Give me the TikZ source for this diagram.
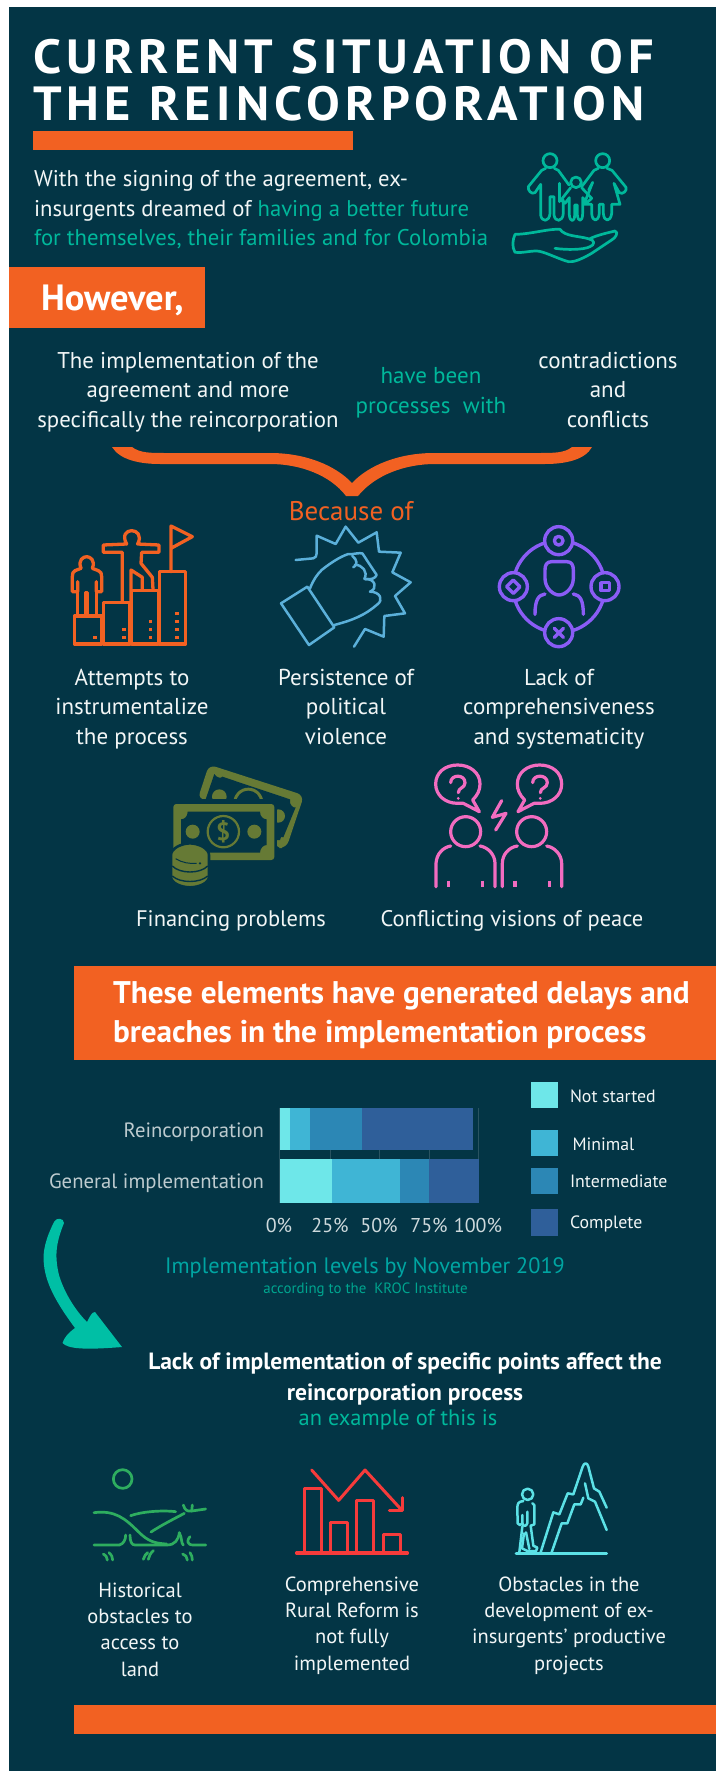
\documentclass[tikz,border=0pt]{standalone}
\usepackage{fontspec}
\setmainfont{PT Sans}
\newfontfamily\titlefont[LetterSpace=11,FakeStretch=1.05]{PT Sans}
\definecolor{bgc}{HTML}{033545}
\definecolor{orangec}{HTML}{F26122}
\definecolor{tealc}{HTML}{00B89B}
\definecolor{capc}{HTML}{00A5A2}
\definecolor{subc}{HTML}{00A58F}
\definecolor{arrowc}{HTML}{00BFA5}
\definecolor{softw}{HTML}{F2F6F6}
\definecolor{chA}{HTML}{6EE7E9}
\definecolor{chB}{HTML}{3FB5D5}
\definecolor{chC}{HTML}{2C87B5}
\definecolor{chD}{HTML}{2F5F9A}
\definecolor{olive}{HTML}{667A35}
\definecolor{pinkc}{HTML}{F26CC0}
\definecolor{purplec}{HTML}{8A5CF6}
\definecolor{bluec}{HTML}{5BB0DA}
\definecolor{greenc}{HTML}{2EAD5F}
\definecolor{redc}{HTML}{F63B3B}
\definecolor{cyanc}{HTML}{5CE1E6}
\tikzset{
  txt/.style={inner sep=0pt,outer sep=0pt,anchor=base,align=center,text=softw,font=\fontsize{#1}{#1}\selectfont},
  txt/.default=22.5,
  lines/.style 2 args={inner sep=0pt,outer sep=0pt,anchor=base,align=center,text=softw,font=\fontsize{#1}{#2}\selectfont},
  icon/.style={line width=#1,line cap=round,line join=round},
  icon/.default=2.7pt,
  px/.style={x=0.33333pt,y=-0.33333pt}
}
\begin{document}
\begin{tikzpicture}[x=1pt,y=-1pt]
\useasboundingbox (0,0) rectangle (716,1771);
\fill[white] (0,0) rectangle (716,1771);
\fill[bgc] (9,7) rectangle (716,1771);

% ---------- title
\node[txt,anchor=base west,text=white,font=\titlefont\bfseries\fontsize{48}{48}\selectfont] (t1) at (33,74) {CURRENT SITUATION OF};
\node[txt,anchor=base west,text=white,font=\titlefont\bfseries\fontsize{48}{48}\selectfont] (t2) at (33,121) {THE REINCORPORATION};
\fill[orangec] (33,131) rectangle (353,150);

\node[lines={22.7}{29.5},align=left,anchor=base west] (intro) at (34,246) {With the signing of the agreement, ex-\\insurgents dreamed of \textcolor{tealc}{having a better future}\\\textcolor{tealc}{for themselves, their families and for Colombia}};

% family icon
\begin{scope}[shift={(500,145)},px,tealc,icon]
\draw (150,47) circle [radius=21];
\draw (308,47) circle [radius=21];
\draw (228,112) circle [radius=16];
\draw (137,70) -- (125,76) -- (85,125) .. controls (82,135) and (95,150) .. (105,143) -- (122,118) -- (122,210) .. controls (125,232) and (148,232) .. (150,205) -- (150,155) -- (162,155) -- (162,210) .. controls (165,232) and (188,232) .. (190,205) -- (190,165);
\draw (163,70) -- (175,76) -- (207,120);
\draw (178,115) -- (178,170);
\draw (212,128) -- (183,165) -- (195,175) -- (208,158) -- (208,210) .. controls (210,232) and (224,232) .. (224,210) -- (224,180) -- (232,180) -- (232,210) .. controls (234,232) and (248,232) .. (248,205) -- (248,158) -- (262,172) -- (275,160) -- (245,128);
\draw (295,70) -- (282,76) -- (245,125);
\draw (321,70) -- (336,76) -- (378,127) .. controls (382,137) and (368,150) .. (358,143) -- (342,115) -- (360,178) -- (335,178) -- (335,205) .. controls (332,232) and (312,232) .. (310,205) -- (310,178) -- (298,178) -- (298,205) .. controls (295,232) and (277,232) .. (275,205) -- (275,178) -- (252,178) -- (278,112) -- (266,135);
\draw (45,268) .. controls (90,268) and (150,250) .. (180,253) .. controls (195,275) and (235,272) .. (268,282) .. controls (290,270) and (330,262) .. (345,258) .. controls (358,262) and (345,280) .. (335,285) -- (275,325) .. controls (240,345) and (220,352) .. (205,350) .. controls (170,340) and (130,318) .. (110,318) .. controls (85,318) and (65,325) .. (45,322) .. controls (35,305) and (38,285) .. (45,268);
\draw (165,310) .. controls (200,315) and (250,315) .. (270,305) .. controls (285,300) and (285,285) .. (268,282);
\end{scope}

% ---------- However
\fill[orangec] (9,267) rectangle (205,328);
\node[txt,anchor=base west,text=white,font=\bfseries\fontsize{36.5}{36.5}\selectfont] (howev) at (41,310) {However,};

\node[lines={22.8}{29.5}] (impl) at (188,427) {The implementation of the\\agreement and more\\specifically the reincorporation};
\node[lines={23}{30},text=tealc] (pro) at (431,413) {have been\\processes\ \ with};
\node[lines={23}{29.5}] (con) at (608,427) {contradictions\\and\\conflicts};

% brace
\fill[orangec] (112,447) -- (132,447) .. controls (140,453) and (150,453) .. (165,453) -- (270,453) .. controls (305,453) and (335,465) .. (352,483) .. controls (369,465) and (399,453) .. (434,453) -- (540,453) .. controls (553,453) and (565,453) .. (572,447) -- (592,447) .. controls (585,460) and (565,464) .. (545,464) -- (435,464) .. controls (405,464) and (375,475) .. (358,496) -- (346,496) .. controls (330,475) and (300,464) .. (270,464) -- (160,464) .. controls (140,464) and (120,460) .. (112,447) -- cycle;

\node[txt=27,text=orangec] (bec) at (351,520) {Because of};

% icon orange
\begin{scope}[shift={(65,520)},px,orangec,icon=3.3pt]
\draw (28,288) rectangle (110,372);
\draw (115,248) rectangle (195,372);
\draw (200,212) rectangle (280,372);
\draw (283,155) rectangle (362,372);
\draw (318,155) -- (318,18) -- (382,50) -- (318,85);
\foreach \p in {(90,352),(177,328),(177,352),(256,304),(256,328),(256,352),(336,280),(336,304),(336,328),(336,352)}
  \fill[shift={\p}] (-5,-5) rectangle (5,5);
\draw (48,145) .. controls (38,120) and (55,110) .. (65,110) .. controls (75,110) and (92,120) .. (82,145) -- (100,152) .. controls (108,155) and (110,160) .. (110,170) -- (110,215) -- (94,215) -- (94,185);
\draw (94,215) -- (94,285);
\draw (48,145) -- (30,152) .. controls (24,155) and (22,160) .. (22,170) -- (22,215) -- (38,215) -- (38,185);
\draw (38,215) -- (38,285);
\draw (62,285) -- (62,218) -- (68,218) -- (68,285);
\draw (185,72) .. controls (170,45) and (185,32) .. (200,32) .. controls (215,32) and (232,45) .. (218,72) -- (282,75) -- (282,97) -- (230,97) -- (228,130) -- (262,172) -- (264,208);
\draw (185,72) -- (115,75) -- (115,97) -- (172,97) -- (172,245);
\draw (198,245) -- (198,150) -- (232,172) -- (232,208);
\end{scope}

% icon blue
\begin{scope}[shift={(275,520)},px,bluec,icon=2.5pt]
\draw (18,250) -- (97,200) -- (178,322) -- (102,375) -- cycle;
\draw (105,205) .. controls (115,180) and (125,165) .. (140,150) .. controls (165,130) and (195,110) .. (220,102) .. controls (232,105) and (240,98) .. (262,100) -- (305,165) .. controls (300,175) and (290,180) .. (270,177);
\draw (232,108) .. controls (248,120) and (248,135) .. (235,142);
\draw (240,134) .. controls (262,135) and (280,155) .. (268,177);
\draw (270,177) .. controls (300,175) and (310,205) .. (285,215);
\draw (285,215) .. controls (315,215) and (328,240) .. (305,255) .. controls (270,285) and (235,300) .. (178,315);
\draw (62,120) -- (115,115) .. controls (122,113) and (125,108) .. (125,100) -- (125,47) -- (182,72) -- (212,20) -- (250,68) -- (305,37) -- (312,95) -- (377,98) -- (352,157) -- (407,187) -- (360,228) -- (390,280) -- (328,288) -- (326,350) -- (270,327) -- (237,380);
\end{scope}

% icon purple
\begin{scope}[shift={(490,520)},px,purplec,icon=3.4pt]
\draw (207,200) circle [radius=138];
\foreach \cx/\cy in {206/62,70/200,345/200,206/338}
  \draw[fill=bgc] (\cx,\cy) circle [radius=42];
\draw (206,62) circle [radius=13];
\draw (70,180) -- (90,200) -- (70,220) -- (50,200) -- cycle;
\draw (333,188) rectangle (358,212);
\draw (193,325) -- (220,352) (220,325) -- (193,352);
\draw (185,125) -- (230,125) .. controls (245,125) and (250,135) .. (250,150) -- (250,175) .. controls (250,205) and (225,225) .. (207,225) .. controls (190,225) and (165,205) .. (165,175) -- (165,150) .. controls (165,135) and (170,125) .. (185,125) -- cycle;
\draw (165,222) .. controls (145,225) and (135,240) .. (135,283);
\draw (250,222) .. controls (270,225) and (280,240) .. (280,283);
\end{scope}

\node[lines={23}{29.5}] (l1) at (132,744) {Attempts to\\instrumentalize\\the process};
\node[lines={23}{29.5}] (l2) at (346,744) {Persistence of\\political\\violence};
\node[lines={23}{29.5}] (l3) at (559,744) {Lack of\\comprehensiveness\\and systematicity};

% money icon
\begin{scope}[shift={(165,760)},px]
\fill[olive,rounded corners=7pt] (132,14) -- (417,106) -- (364,264) -- (330,264) -- (330,118) -- (98,118) -- cycle;
\fill[bgc] (148,42) .. controls (155,55) and (170,55) .. (172,50) -- (375,118) .. controls (372,135) and (385,145) .. (392,142) -- (355,232) .. controls (350,226) and (345,232) .. (345,240) -- (336,240) -- (336,118) -- (122,118) -- cycle;
\fill[olive] (163,110) circle [radius=22];
\fill[olive] (250,128) circle [radius=45];
\fill[bgc] (250,128) circle [radius=36];
\fill[olive] (250,118) -- (240,125) -- (265,125) -- cycle;
\fill[olive] (340,168) circle [radius=20];
\fill[bgc] (10,118) rectangle (336,310);
\fill[olive,rounded corners=3pt] (25,132) rectangle (328,300);
\fill[bgc] (68,155) -- (285,155) .. controls (285,170) and (295,178) .. (305,178) -- (305,255) .. controls (295,255) and (285,265) .. (285,278) -- (68,278) .. controls (68,265) and (58,255) .. (48,255) -- (48,178) .. controls (58,178) and (68,170) .. (68,155) -- cycle;
\fill[olive] (83,215) circle [radius=21];
\fill[olive] (268,215) circle [radius=21];
\draw[olive,line width=2.2pt] (175,215) circle [radius=47];
\node[inner sep=0pt,text=olive,font=\bfseries\fontsize{25}{25}\selectfont] (dollar) at (175,215) {\$};
\draw[bgc,line width=2.6pt,fill=olive] (18,285) .. controls (18,265) and (50,250) .. (75,250) .. controls (100,250) and (132,265) .. (132,285) -- (132,350) .. controls (132,370) and (100,382) .. (75,382) .. controls (50,382) and (18,370) .. (18,350) -- cycle;
\draw[bgc,line width=1.4pt] (22,318) .. controls (45,342) and (105,342) .. (128,318);
\draw[bgc,line width=1.4pt] (22,348) .. controls (45,370) and (105,370) .. (128,348);
\draw[bgc,line width=1pt] (32,296) .. controls (50,308) and (75,312) .. (95,310);
\fill[bgc] (105,310) circle [radius=4];
\end{scope}

% pink icon
\begin{scope}[shift={(430,760)},px,pinkc,icon=3.2pt]
\draw (100,130) -- (148,155) -- (128,120) .. controls (143,105) and (150,90) .. (150,72) .. controls (150,38) and (120,15) .. (83,15) .. controls (45,15) and (17,38) .. (17,72) .. controls (17,105) and (45,130) .. (83,130) -- cycle;
\draw (312,130) -- (264,155) -- (284,120) .. controls (269,105) and (262,90) .. (262,72) .. controls (262,38) and (292,15) .. (329,15) .. controls (367,15) and (395,38) .. (395,72) .. controls (395,105) and (367,130) .. (329,130) -- cycle;
\draw (62,68) .. controls (62,42) and (105,42) .. (105,68) .. controls (105,85) and (85,82) .. (85,98);
\fill (85,115) circle [radius=4.5];
\draw (308,68) .. controls (308,42) and (352,42) .. (352,68) .. controls (352,85) and (331,82) .. (331,98);
\fill (331,115) circle [radius=4.5];
\draw (215,122) -- (187,172) -- (228,160) -- (197,210);
\draw (107,215) circle [radius=45];
\draw (305,215) circle [radius=45];
\draw (62,258) .. controls (40,262) and (20,280) .. (18,310) -- (18,380);
\draw (150,258) .. controls (175,262) and (195,285) .. (195,310) -- (195,380);
\draw (262,258) .. controls (235,262) and (217,285) .. (217,310) -- (217,380);
\draw (350,258) .. controls (375,262) and (395,285) .. (395,310) -- (395,380);
\foreach \tx in {55,158,255,358}
  \draw[line cap=butt,line width=3.6pt] (\tx,362) -- (\tx,380);
\end{scope}

\node[txt] (l4) at (231,926) {Financing problems};
\node[txt] (l5) at (512,926) {Conflicting visions of peace};

% ---------- orange band
\fill[orangec] (74,966) rectangle (716,1060);
\node[lines={31.3}{39},align=left,anchor=base west,text=white,font=\bfseries\fontsize{31.3}{39}\selectfont] (band) at (113,1042) {These elements have generated delays and\\breaches in the implementation process};

% ---------- chart
\foreach \gx in {279.5,330,379,429,478.5}
  \draw[line width=0.5pt,color=bgc!85!white] (\gx,1108) -- (\gx,1203);
\fill[chA] (279.5,1108) rectangle (289.5,1150);
\fill[chB] (289.5,1108) rectangle (310,1150);
\fill[chC] (310,1108) rectangle (361.6,1150);
\fill[chD] (361.6,1108) rectangle (473,1150);
\fill[chA] (279.5,1159) rectangle (331.5,1203);
\fill[chB] (331.5,1159) rectangle (399.5,1203);
\fill[chC] (399.5,1159) rectangle (428.8,1203);
\fill[chD] (428.8,1159) rectangle (478.5,1203);
\node[txt=20.7,anchor=base east,text=softw!78!bgc] (r1) at (264,1137) {Reincorporation};
\node[txt=20.7,anchor=base east,text=softw!78!bgc] (r2) at (264,1188) {General implementation};
\foreach \lx/\ll/\nm in {279/0\%/a,330/25\%/b,379/50\%/c,429/75\%/d,478/100\%/e}
  \node[txt=20,text=softw!85!bgc] (tick\nm) at (\lx,1232) {\ll};
\fill[chA] (531,1082) rectangle (557.5,1108);
\fill[chB] (531,1130) rectangle (557.5,1156);
\fill[chC] (531,1168) rectangle (557.5,1194);
\fill[chD] (531,1209) rectangle (557.5,1236);
\node[txt=17.8,anchor=base west] (k1) at (570,1102) {Not started};
\node[txt=17.8,anchor=base west] (k2) at (572.6,1150) {Minimal};
\node[txt=17.8,anchor=base west] (k3) at (570,1187) {Intermediate};
\node[txt=17.8,anchor=base west] (k4) at (570,1228) {Complete};
\node[txt=22.3,text=capc] (cap) at (365,1273) {Implementation levels by November 2019};
\node[txt=14.9,text=subc] (sub) at (365.5,1293) {according to the\ \ KROC Institute};

% teal arrow
\fill[arrowc] (54,1222) .. controls (46,1238) and (42,1252) .. (44,1265) .. controls (46,1285) and (58,1305) .. (75,1328) .. controls (68,1333) and (64,1338) .. (62.5,1343) .. controls (68,1349) and (85,1350) .. (122,1347) -- (95,1312) .. controls (92,1312) and (90,1316) .. (87,1322) .. controls (75,1310) and (64,1292) .. (59,1275) .. controls (55,1258) and (55,1245) .. (64,1223) .. controls (64,1218) and (56,1217) .. (54,1222) -- cycle;

\node[lines={23.5}{31},text=white,font=\bfseries\fontsize{23.5}{31}\selectfont] (lack) at (405,1400) {Lack of implementation of specific points affect the\\reincorporation process};
\node[txt=22.4,text=tealc] (ex) at (398,1425) {an example of this is};

% land icon
\begin{scope}[shift={(85,1460)},px,greenc,icon=2.7pt]
\draw (113,57) circle [radius=28];
\draw (27,158) .. controls (90,150) and (120,175) .. (160,215) .. controls (190,245) and (210,250) .. (245,252);
\draw (137,167) .. controls (170,155) and (230,150) .. (272,155);
\draw (198,216) .. controls (230,195) and (270,175) .. (298,160);
\draw (295,135) .. controls (300,150) and (305,155) .. (320,153) -- (362,147);
\draw (320,153) -- (322,135);
\draw (27,255) -- (103,255) .. controls (115,252) and (122,240) .. (122,225);
\draw (135,225) .. controls (135,245) and (140,255) .. (150,255) -- (245,255) .. controls (270,255) and (280,240) .. (283,218);
\draw (283,218) .. controls (292,235) and (288,250) .. (295,255);
\draw (315,230) .. controls (305,240) and (305,255) .. (325,255) -- (362,255);
\draw (55,282) .. controls (62,285) and (66,290) .. (67,300);
\draw (72,278) .. controls (80,285) and (83,292) .. (83,300);
\draw (175,298) .. controls (178,288) and (182,282) .. (188,278);
\draw (190,298) .. controls (192,288) and (196,280) .. (205,272);
\draw (293,282) .. controls (302,285) and (306,290) .. (307,300);
\draw (315,278) .. controls (320,285) and (322,292) .. (322,300);
\end{scope}

% chart and mountain icons
\begin{scope}[shift={(290,1455)},px]
\begin{scope}[redc,icon=3pt]
\draw[line width=3.4pt] (20,294) -- (352,294);
\draw (42,294) -- (42,100) -- (93,100) -- (93,294);
\draw (120,294) -- (120,203) -- (172,203) -- (172,294);
\draw (200,294) -- (200,135) -- (250,135) -- (250,294);
\draw (280,294) -- (280,237) -- (330,237) -- (330,294);
\draw (65,45) -- (146,136) -- (225,45) -- (335,165);
\draw (337,128) -- (337,165) -- (298,165);
\end{scope}
\begin{scope}[cyanc,icon=2.5pt]
\draw[line width=3pt] (678,295) -- (950,295);
\draw (713,118) circle [radius=17];
\draw (700,138) .. controls (685,140) and (682,145) .. (682,160) -- (683,205) .. controls (685,212) and (695,212) .. (697,205) -- (697,180);
\draw (712,170) -- (712,205) .. controls (708,215) and (700,215) .. (697,205);
\draw (727,145) -- (733,150) -- (733,208) -- (722,212) -- (730,272) -- (742,278) -- (738,288) -- (712,288);
\draw (697,215) -- (688,292);
\draw (702,235) -- (696,280) -- (712,288);
\draw (708,232) -- (718,282);
\draw (752,292) -- (790,172) -- (808,178) -- (833,115) -- (850,118) -- (878,35) .. controls (882,22) and (892,22) .. (895,35) -- (912,100) -- (928,110) -- (950,158);
\draw (785,292) -- (815,205) -- (832,205) -- (853,148) -- (872,148) -- (880,128);
\draw (885,85) -- (895,130) -- (915,140) -- (950,225);
\end{scope}
\end{scope}

\node[lines={20.5}{26.1}] (b1) at (140,1676) {Historical\\obstacles to\\access to\\land};
\node[lines={20.5}{26.1}] (b2) at (352,1670) {Comprehensive\\Rural Reform is\\not fully\\implemented};
\node[lines={20.5}{26.1}] (b3) at (569,1670) {Obstacles in the\\development of ex-\\insurgents' productive\\projects};

\fill[orangec] (74,1705) rectangle (716,1734);
\end{tikzpicture}
\end{document}
